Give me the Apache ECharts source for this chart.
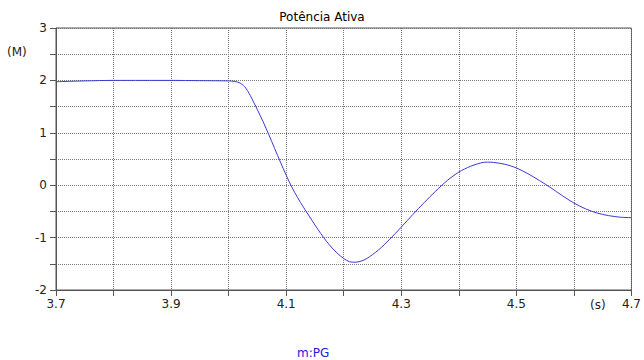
<!DOCTYPE html>
<html>
<head>
<meta charset="utf-8">
<script src="https://cdn.jsdelivr.net/npm/echarts@6/dist/echarts.min.js"></script>
<style>html,body{margin:0;padding:0;background:#fff}#c{width:644px;height:360px}</style>
</head>
<body>
<div id="c"></div>
<script>
const timeS = [3.70,3.75,3.80,3.85,3.90,3.95,4.00,4.01,4.02,4.03,4.04,4.05,4.06,4.07,4.08,4.09,4.10,4.11,4.12,4.13,4.14,4.15,4.16,4.17,4.18,4.19,4.20,4.21,4.22,4.23,4.24,4.26,4.28,4.30,4.32,4.34,4.36,4.38,4.40,4.42,4.44,4.45,4.46,4.48,4.50,4.52,4.54,4.56,4.58,4.60,4.62,4.64,4.66,4.68,4.70];
const pgValues = [1.975,1.99,2.0,2.0,2.0,1.995,1.99,1.98,1.95,1.85,1.66,1.44,1.21,0.96,0.70,0.44,0.19,-0.04,-0.24,-0.42,-0.59,-0.76,-0.92,-1.07,-1.20,-1.31,-1.40,-1.46,-1.47,-1.45,-1.40,-1.24,-1.03,-0.80,-0.56,-0.33,-0.11,0.09,0.25,0.36,0.43,0.44,0.435,0.40,0.33,0.22,0.09,-0.05,-0.20,-0.34,-0.45,-0.53,-0.58,-0.61,-0.62];
const yTickLabels = ['-2','-1','0','1','2','3'];
const xTickLabels = ['3.7','3.9','4.1','4.3','4.5','4.7'];
const titleText = 'Potência Ativa';
const seriesName = 'm:PG';

const font = 'DejaVu Sans';
const chart = echarts.init(document.getElementById('c'), null, {renderer: 'svg'});
chart.setOption({
  animation: false,
  backgroundColor: '#fff',
  title: {text: titleText, left: 'center', top: 6, textStyle: {fontFamily: font, fontSize: 12, fontWeight: 'normal', color: '#000'}},
  legend: {data: [seriesName], icon: 'none', itemWidth: 0, left: 287, top: 341, textStyle: {fontFamily: font, fontSize: 12, color: '#2020d0'}},
  grid: {left: 56, right: 9, top: 28, bottom: 70, show: true, borderColor: '#555', borderWidth: 1},
  xAxis: {
    type: 'value', min: 3.7, max: 4.7, interval: 0.1,
    axisLine: {onZero: false, lineStyle: {color: '#555'}},
    axisTick: {show: true, length: 6, lineStyle: {color: '#555'}},
    splitLine: {show: true, lineStyle: {color: '#777', type: [1, 1], width: 1}},
    axisLabel: {
      fontFamily: font, fontSize: 12, color: '#222', margin: 8, showMaxLabel: true, showMinLabel: true,
      formatter: function (v) {
        const k = Math.round((v - 3.7) * 10);
        return k % 2 === 0 ? xTickLabels[k / 2] : '';
      }
    }
  },
  yAxis: {
    type: 'value', min: -2, max: 3, interval: 0.5,
    axisLine: {show: true, onZero: false, lineStyle: {color: '#555'}},
    axisTick: {show: true, length: 6, lineStyle: {color: '#555'}},
    splitLine: {show: true, lineStyle: {color: '#777', type: [1, 1], width: 1}},
    axisLabel: {
      fontFamily: font, fontSize: 12, color: '#222', margin: 9,
      formatter: function (v) {
        const k = Math.round((v + 2) * 2);
        return k % 2 === 0 ? yTickLabels[k / 2] : '';
      }
    }
  },
  graphic: [
    {type: 'text', left: 7, top: 46, style: {text: '(M)', fontFamily: font, fontSize: 12, fill: '#222'}},
    {type: 'text', left: 590, top: 299, style: {text: '(s)', fontFamily: font, fontSize: 12, fill: '#222'}}
  ],
  series: [{
    name: seriesName, type: 'line', showSymbol: false, smooth: 0.3,
    lineStyle: {color: '#3a3ad0', width: 1},
    itemStyle: {color: '#3a3ad0'},
    data: timeS.map((t, i) => [t, pgValues[i]])
  }]
});
</script>
</body>
</html>
